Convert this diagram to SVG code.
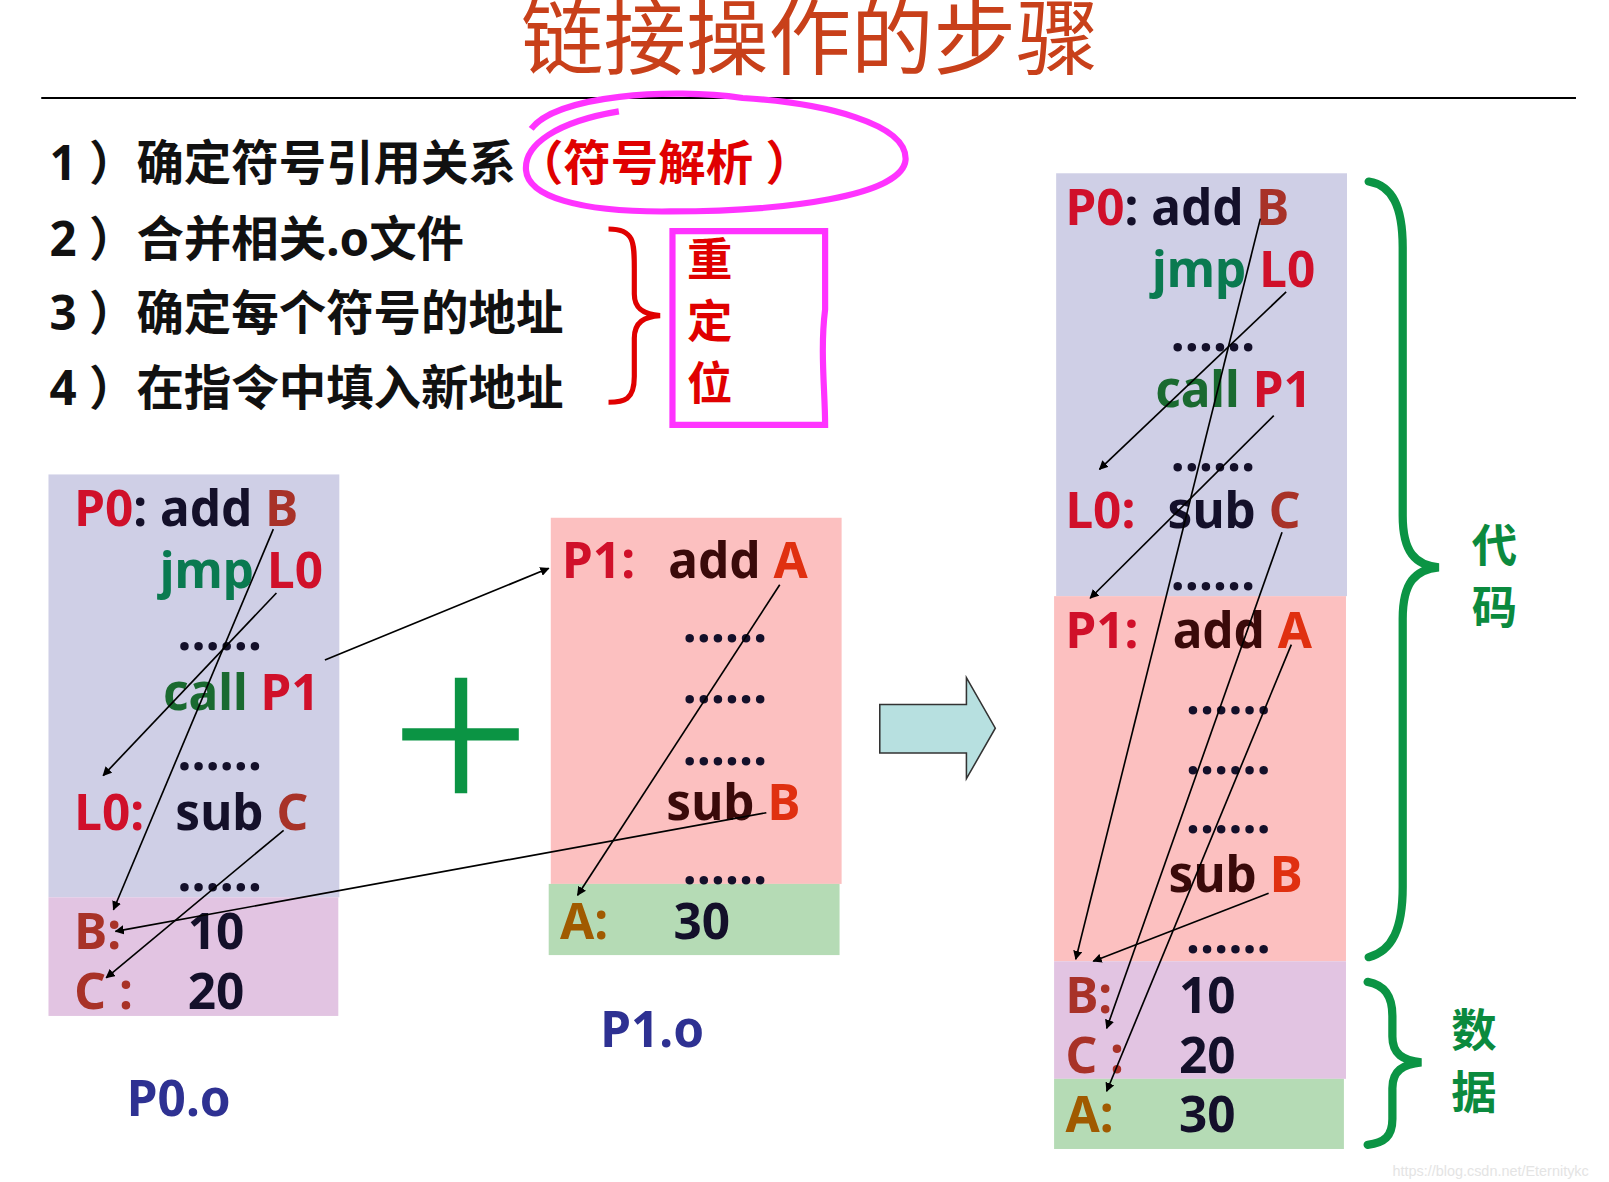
<svg xmlns="http://www.w3.org/2000/svg" width="1609" height="1182" viewBox="0 0 1609 1182">
<defs>
<marker id="ah" viewBox="0 0 10 10" refX="9" refY="5" markerWidth="9" markerHeight="9" markerUnits="userSpaceOnUse" orient="auto"><path d="M0,0L10,5L0,10z" fill="#000"/></marker>
<style>
text{font-family:"Noto Sans","Noto Sans CJK SC",sans-serif;font-weight:bold;white-space:pre}
.c{font-size:48px}
.l{font-size:46px;fill:#111}
.r{fill:#d0102a}.b{fill:#a83228}.k{fill:#14102a}.g{fill:#0a7a50}.g2{fill:#1a6a30}.a{fill:#e03010}.o{fill:#a05a00}.n{fill:#2e3192}
.blue{fill:#cfcfe6}.pink{fill:#fcc0c0}.purp{fill:#e2c4e2}.grn{fill:#b5dbb5}
.ar{stroke:#000;stroke-width:1.6;fill:none;marker-end:url(#ah)}
.br{fill:none;stroke:#0b9444;stroke-width:8;stroke-linecap:round}
</style>
</defs>
<rect width="1609" height="1182" fill="#fff"/>
<g transform="scale(1.0314)">
<g id="title">
<text x="785" y="66" font-size="80" fill="#c8401a" text-anchor="middle" style="font-weight:normal">链接操作的步骤</text>
<line x1="40" y1="95" x2="1528" y2="95" stroke="#000" stroke-width="2"/>
</g>
<g id="steps">
<text class="l" x="48" y="175">1 ）确定符号引用关系<tspan fill="#e00000">（符号解析 ）</tspan></text>
<text class="l" x="48" y="248">2 ）合并相关.o文件</text>
<text class="l" x="48" y="320">3 ）确定每个符号的地址</text>
<text class="l" x="48" y="393">4 ）在指令中填入新地址</text>
<path d="M515,125 C540,92 650,85 720,95 C800,100 880,120 878,155 C875,190 760,205 650,205 C560,206 512,190 510,165 C508,140 540,118 600,108" fill="none" stroke="#ff33ff" stroke-width="6"/>
<path d="M590,222 C615,222 615,235 615,260 L615,285 C615,300 625,305 640,306 C625,307 615,312 615,328 L615,365 C615,388 605,390 590,390" fill="none" stroke="#e00000" stroke-width="5"/>
<path d="M652,224 H800 V300 C795,340 800,380 800,412 H652 Z" fill="none" stroke="#ff33ff" stroke-width="6"/>
<text x="666" y="268" font-size="44" fill="#e00000">重</text>
<text x="666" y="328" font-size="44" fill="#e00000">定</text>
<text x="666" y="388" font-size="44" fill="#e00000">位</text>
</g>
<g id="p0o">
<rect class="blue" x="47" y="460" width="282" height="410"/>
<rect class="purp" x="47" y="870" width="281" height="115"/>
<text class="c" x="72" y="510"><tspan class="r">P0</tspan><tspan class="k">: add </tspan><tspan class="b">B</tspan></text>
<text class="c" x="155" y="570"><tspan class="g">jmp </tspan><tspan class="r">L0</tspan></text>
<text class="c k" x="172" y="630">……</text>
<text class="c" x="158" y="688"><tspan class="g2">call </tspan><tspan class="r">P1</tspan></text>
<text class="c k" x="172" y="747">……</text>
<text class="c" x="72" y="805"><tspan class="r">L0:</tspan><tspan class="k" x="170">sub </tspan><tspan class="b">C</tspan></text>
<text class="c k" x="172" y="864">……</text>
<text class="c" x="72" y="920"><tspan class="b">B:</tspan><tspan class="k" x="182">10</tspan></text>
<text class="c" x="72" y="978"><tspan class="b">C :</tspan><tspan class="k" x="182">20</tspan></text>
<text class="c n" x="123" y="1082">P0.o</text>
</g>
<g id="plus"><path d="M390,712H503M447,657V769" stroke="#0b9444" stroke-width="12"/></g>
<g id="p1o">
<rect class="pink" x="534" y="502" width="282" height="355"/>
<rect class="grn" x="532" y="857" width="282" height="69"/>
<text class="c" x="545" y="560"><tspan class="r">P1:</tspan><tspan fill="#3a0a0a" x="648">add </tspan><tspan class="a">A</tspan></text>
<text class="c k" x="662" y="622">……</text>
<text class="c k" x="662" y="682">……</text>
<text class="c k" x="662" y="742">……</text>
<text class="c" x="646" y="795"><tspan fill="#3a0a0a">sub </tspan><tspan class="a">B</tspan></text>
<text class="c k" x="662" y="857">……</text>
<text class="c" x="543" y="910"><tspan class="o">A:</tspan><tspan class="k" x="653">30</tspan></text>
<text class="c n" x="582" y="1015">P1.o</text>
</g>
<g id="bigarrow"><path d="M853,683H937V657L965,706L937,755V730H853z" fill="#b7e0e0" stroke="#333" stroke-width="1.5"/></g>
<g id="exe">
<rect class="blue" x="1024" y="168" width="282" height="410"/>
<rect class="pink" x="1022" y="578" width="283" height="354"/>
<rect class="purp" x="1022" y="932" width="283" height="114"/>
<rect class="grn" x="1022" y="1046" width="281" height="68"/>
<text class="c" x="1033" y="218"><tspan class="r">P0</tspan><tspan class="k">: add </tspan><tspan class="b">B</tspan></text>
<text class="c" x="1117" y="278"><tspan class="g">jmp </tspan><tspan class="r">L0</tspan></text>
<text class="c k" x="1135" y="340">……</text>
<text class="c" x="1120" y="395"><tspan class="g2">call </tspan><tspan class="r">P1</tspan></text>
<text class="c k" x="1135" y="457">……</text>
<text class="c" x="1033" y="512"><tspan class="r">L0:</tspan><tspan class="k" x="1132">sub </tspan><tspan class="b">C</tspan></text>
<text class="c k" x="1135" y="572">……</text>
<text class="c" x="1033" y="628"><tspan class="r">P1:</tspan><tspan fill="#3a0a0a" x="1137">add </tspan><tspan class="a">A</tspan></text>
<text class="c k" x="1150" y="692">……</text>
<text class="c k" x="1150" y="750">……</text>
<text class="c k" x="1150" y="808">……</text>
<text class="c" x="1133" y="865"><tspan fill="#3a0a0a">sub </tspan><tspan class="a">B</tspan></text>
<text class="c k" x="1150" y="924">……</text>
<text class="c" x="1033" y="982"><tspan class="b">B:</tspan><tspan class="k" x="1143">10</tspan></text>
<text class="c" x="1033" y="1040"><tspan class="b">C :</tspan><tspan class="k" x="1143">20</tspan></text>
<text class="c" x="1033" y="1098"><tspan class="o">A:</tspan><tspan class="k" x="1143">30</tspan></text>
</g>
<g id="braces">
<path class="br" d="M1327,176C1350,180 1360,200 1360,240V500C1360,535 1372,548 1395,550C1372,552 1360,565 1360,600V860C1360,900 1350,922 1327,928"/>
<path class="br" d="M1326,952C1342,955 1350,965 1350,985V1005C1350,1022 1360,1028 1378,1030C1360,1032 1350,1038 1350,1055V1085C1350,1102 1342,1108 1326,1110"/>
<text x="1427" y="545" font-size="44" fill="#0b8a3e">代</text>
<text x="1427" y="605" font-size="44" fill="#0b8a3e">码</text>
<text x="1407" y="1015" font-size="44" fill="#0b8a3e">数</text>
<text x="1407" y="1075" font-size="44" fill="#0b8a3e">据</text>
</g>
<g id="connectors">
<line class="ar" x1="265" y1="513" x2="110" y2="882"/>
<line class="ar" x1="268" y1="575" x2="100" y2="752"/>
<line class="ar" x1="315" y1="640" x2="532" y2="551"/>
<line class="ar" x1="275" y1="805" x2="103" y2="948"/>
<line class="ar" x1="756" y1="567" x2="560" y2="868"/>
<line class="ar" x1="743" y1="788" x2="112" y2="903"/>
<line class="ar" x1="1222" y1="212" x2="1043" y2="930"/>
<line class="ar" x1="1247" y1="283" x2="1066" y2="455"/>
<line class="ar" x1="1235" y1="403" x2="1057" y2="580"/>
<line class="ar" x1="1243" y1="516" x2="1073" y2="997"/>
<line class="ar" x1="1252" y1="625" x2="1073" y2="1058"/>
<line class="ar" x1="1230" y1="866" x2="1060" y2="932"/>
</g>
<text x="1350" y="1140" font-size="14" fill="#e4e4e4" style="font-family:'Liberation Sans',sans-serif;font-weight:normal">https://blog.csdn.net/Eternitykc</text>
</g>
</svg>
